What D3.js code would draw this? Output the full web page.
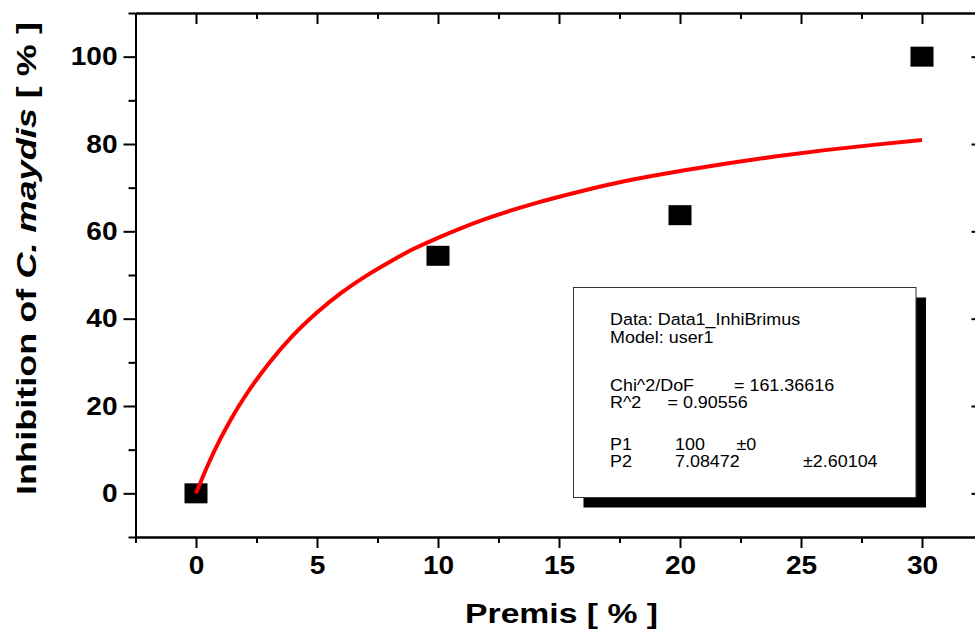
<!DOCTYPE html>
<html>
<head>
<meta charset="utf-8">
<script src="https://cdn.jsdelivr.net/npm/d3@7"></script>
<style>
  html, body { margin: 0; padding: 0; background: #fff; }
  svg { display: block; }
  text { font-family: "Liberation Sans", Arial, sans-serif; }
</style>
</head>
<body>
<svg id="chart" width="975" height="635"></svg>
<script>
// ---- data ----
const pointX = [0, 10, 20, 30];
const pointY = [0, 54.4, 63.7, 100];

// fitted curve
const curveX = [0, 0.5, 1, 1.5, 2, 3, 4, 5, 6, 7, 8, 9, 10, 12, 14, 16, 18, 20, 22, 24, 26, 28, 30];
const curveY = [0, 6.6, 12.4, 17.5, 22.0, 29.7, 36.1, 41.4, 45.9, 49.7, 53.0, 56.0, 58.5, 62.9, 66.4, 69.3, 71.8, 73.8, 75.6, 77.2, 78.6, 79.8, 80.9];

const xMajorTicks = [0, 5, 10, 15, 20, 25, 30];
const xMinorTicks = [-2.5, 2.5, 7.5, 12.5, 17.5, 22.5, 27.5, 32.5];
const yMajorTicks = [0, 20, 40, 60, 80, 100];
const yMinorTicks = [-10, 10, 30, 50, 70, 90, 110];

const xTitle = "Premis [ % ]";
const yTitleParts = [
  { t: "Inhibition of ", italic: false },
  { t: "C. maydis", italic: true },
  { t: " [ % ]", italic: false }
];

const legendLines = [
  ["Data: Data1_InhiBrimus"],
  ["Model: user1"],
  ["Chi^2/DoF", "= 161.36616"],
  ["R^2", "= 0.90556"],
  ["P1", "100", "±0"],
  ["P2", "7.08472", "±2.60104"]
];

// ---- layout ----
const svg = d3.select("#chart");
const x = d3.scaleLinear().domain([-2.5, 32.5]).range([135.5, 982.5]);
const y = d3.scaleLinear().domain([-10, 110]).range([537, 13]);

// widen glyphs horizontally (reference font renders wider than Liberation Sans)
function stretch(sel, factor) {
  sel.each(function () {
    const len = this.getComputedTextLength();
    if (len > 0) {
      d3.select(this).attr("textLength", len * factor).attr("lengthAdjust", "spacingAndGlyphs");
    }
  });
}

const axisStyle = g => {
  g.selectAll("path.domain").attr("stroke", "#000").attr("stroke-width", 2);
  g.selectAll(".tick line").attr("stroke", "#000").attr("stroke-width", 2);
  g.selectAll(".tick text")
    .attr("fill", "#000")
    .style("font-size", "25.5px")
    .style("font-weight", "bold")
    .style("font-family", "'Liberation Sans', Arial, sans-serif")
    .call(stretch, 1.1);
};

// bottom axis (outward ticks)
svg.append("g").attr("transform", `translate(0,${y(-10)})`)
  .call(d3.axisBottom(x).tickValues(xMinorTicks).tickSize(6).tickSizeOuter(0).tickFormat(""))
  .call(axisStyle);
svg.append("g").attr("transform", `translate(0,${y(-10)})`)
  .call(d3.axisBottom(x).tickValues(xMajorTicks).tickSize(11).tickSizeOuter(0).tickPadding(8).tickFormat(d3.format("d")))
  .call(axisStyle);

// top axis (inward ticks)
svg.append("g").attr("transform", `translate(0,${y(110)})`)
  .call(d3.axisBottom(x).tickValues(xMinorTicks).tickSize(6).tickSizeOuter(0).tickFormat(""))
  .call(axisStyle);
svg.append("g").attr("transform", `translate(0,${y(110)})`)
  .call(d3.axisBottom(x).tickValues(xMajorTicks).tickSize(11).tickSizeOuter(0).tickFormat(""))
  .call(axisStyle);

// left axis (outward ticks)
svg.append("g").attr("transform", `translate(${x(-2.5)},0)`)
  .call(d3.axisLeft(y).tickValues(yMinorTicks).tickSize(7).tickSizeOuter(0).tickFormat(""))
  .call(axisStyle);
svg.append("g").attr("transform", `translate(${x(-2.5)},0)`)
  .call(d3.axisLeft(y).tickValues(yMajorTicks).tickSize(12).tickSizeOuter(0).tickPadding(6).tickFormat(d3.format("d")))
  .call(axisStyle);

// right axis (inward ticks)
svg.append("g").attr("transform", `translate(${x(32.5)},0)`)
  .call(d3.axisLeft(y).tickValues(yMinorTicks).tickSize(6).tickSizeOuter(0).tickFormat(""))
  .call(axisStyle);
svg.append("g").attr("transform", `translate(${x(32.5)},0)`)
  .call(d3.axisLeft(y).tickValues(yMajorTicks).tickSize(11).tickSizeOuter(0).tickFormat(""))
  .call(axisStyle);

// markers
svg.append("g").selectAll("rect")
  .data(pointX.map((d, i) => [d, pointY[i]]))
  .join("rect")
  .attr("x", d => x(d[0]) - 11.5)
  .attr("y", d => y(d[1]) - 10)
  .attr("width", 23)
  .attr("height", 20)
  .attr("fill", "#000");

// fitted curve
const line = d3.line().x(d => x(d[0])).y(d => y(d[1])).curve(d3.curveMonotoneX);
svg.append("path")
  .datum(curveX.map((d, i) => [d, curveY[i]]))
  .attr("d", line)
  .attr("fill", "none")
  .attr("stroke", "#ff0000")
  .attr("stroke-width", 4);

// legend box with shadow
const bx = 573.5, by = 287.5, bw = 342.5, bh = 210;
svg.append("rect").attr("x", bx + 10).attr("y", by + 10).attr("width", bw).attr("height", bh).attr("fill", "#000");
svg.append("rect").attr("x", bx).attr("y", by).attr("width", bw).attr("height", bh)
  .attr("fill", "#fff").attr("stroke", "#333").attr("stroke-width", 1);

const lineY = [325, 342.5, 390.5, 407.5, 449.5, 467];
const colX = [
  [610],
  [610],
  [610, 734],
  [610, 667.5],
  [610, 675, 736.5],
  [610, 675, 803]
];
const lg = svg.append("g").style("font-size", "16.3px").attr("fill", "#000");
legendLines.forEach((parts, i) => {
  parts.forEach((p, j) => {
    lg.append("text").attr("x", colX[i][j]).attr("y", lineY[i]).text(p);
  });
});
lg.selectAll("text").call(stretch, 1.1);

// axis titles (glyphs widened along the text direction)
const xt = svg.append("text")
  .attr("x", 0).attr("y", 0)
  .attr("text-anchor", "middle")
  .style("font-size", "28.5px").style("font-weight", "bold")
  .text(xTitle);
const xtLen = xt.node().getComputedTextLength();
xt.attr("transform", `translate(561.5,623) scale(${193 / xtLen},1)`);

const yt = svg.append("text")
  .attr("x", 0).attr("y", 0)
  .attr("text-anchor", "middle")
  .style("font-size", "28.5px").style("font-weight", "bold");
yTitleParts.forEach(p => {
  yt.append("tspan").style("font-style", p.italic ? "italic" : "normal").text(p.t);
});
const ytLen = yt.node().getComputedTextLength();
yt.attr("transform", `translate(36,258.5) rotate(-90) scale(${473 / ytLen},1)`);
</script>
</body>
</html>
